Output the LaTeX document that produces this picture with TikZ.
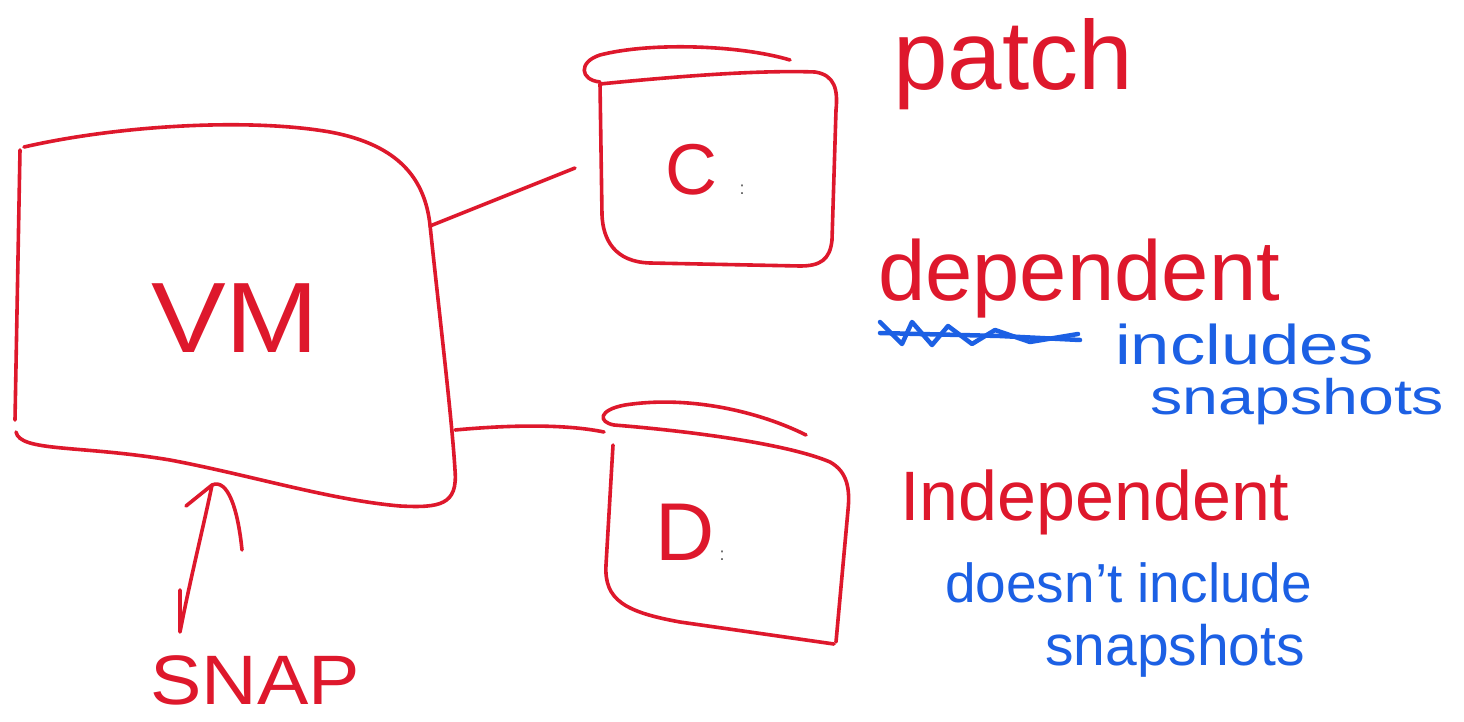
\documentclass[tikz,border=0pt]{standalone}
\usepackage{fontspec}
\usepackage{graphicx}
\setmainfont{Liberation Sans}
\definecolor{inkred}{RGB}{222,24,44}
\definecolor{inkblue}{RGB}{28,96,228}
\definecolor{dotgray}{RGB}{90,90,90}
\tikzset{
  redline/.style={draw=inkred,line width=3.6pt,line cap=round,line join=round},
  blueline/.style={draw=inkblue,line width=4.5pt,line cap=round,line join=round},
  redtxt/.style={text=inkred,inner sep=0pt},
  bluetxt/.style={text=inkblue,inner sep=0pt},
}
\newcommand{\fs}[1]{\fontsize{#1}{#1}\selectfont}
\begin{document}
\begin{tikzpicture}[x=1pt,y=-1pt]
\useasboundingbox (0,0) rectangle (1464,722);
\fill[white] (0,0) rectangle (1464,722);

% ---- VM box ----
\draw[redline] (24,147) .. controls (120,125) and (250,118) .. (330,132)
  .. controls (400,145) and (425,180) .. (430,225)
  .. controls (440,320) and (452,420) .. (455,470)
  .. controls (458,505) and (440,508) .. (400,506)
  .. controls (330,500) and (250,475) .. (170,460)
  .. controls (80,445) and (20,452) .. (16,432);
\draw[redline] (20,150) -- (15,420);
\node[redtxt,font=\fs{100}] (vm) at (235,318) {\scalebox{1.12}[1]{VM}};

% ---- C: box ----
\draw[redline] (790,60) .. controls (740,45) and (650,42) .. (600,55)
  .. controls (578,62) and (580,80) .. (600,82);
\draw[redline] (600,84) .. controls (680,76) and (760,70) .. (815,72)
  .. controls (835,75) and (838,90) .. (836,110)
  -- (832,240) .. controls (830,260) and (820,266) .. (800,266)
  -- (650,263) .. controls (615,262) and (603,240) .. (602,215) -- cycle;
\node[redtxt,font=\fs{72},anchor=base] (cdrive) at (705,195) {C\textcolor{dotgray}{\fs{18}\hspace{22pt}:}};

% ---- D: box ----
\draw[redline] (806,435) .. controls (760,412) and (690,395) .. (625,405)
  .. controls (598,410) and (598,422) .. (614,425);
\draw[redline] (614,425) .. controls (700,432) and (790,445) .. (830,462)
  .. controls (848,472) and (850,490) .. (848,510) -- (836,642);
\draw[redline] (613,445) -- (606,565) .. controls (604,600) and (625,612) .. (680,622)
  -- (834,644);
\node[redtxt,font=\fs{82},anchor=base] (ddrive) at (690,560) {D\textcolor{dotgray}{\fs{18}\;:}};

% ---- connectors ----
\coordinate (vmC) at (430,226);
\coordinate (cL) at (575,168);
\coordinate (vmD) at (455,430);
\coordinate (dL) at (604,432);
\draw[redline] (vmC) -- (cL);
\draw[redline] (vmD) .. controls (520,424) and (570,425) .. (dL);

% ---- snap arrow ----
\node[redtxt,font=\fs{70},anchor=base west] (snap) at (150,704) {\scalebox{1.1}[1]{SNAP}};
\coordinate (snapTop) at (180,632);
\coordinate (tip) at (212,485);
\draw[redline] (180,590) -- (snapTop) .. controls (190,580) and (205,520) .. (tip);
\draw[redline] (186,506) -- (tip) .. controls (228,478) and (238,510) .. (242,550);

% ---- labels ----
\node[redtxt,font=\fs{98},anchor=base west] (patch) at (893,90) {patch};
\node[redtxt,font=\fs{85},anchor=base west] (dep) at (878,300) {dependent};
\node[redtxt,font=\fs{70},anchor=base west] (indep) at (900,520) {Independent};

% scribbled-out word
\draw[blueline] (880,322) -- (902,344) -- (912,322) -- (932,345) -- (948,326)
  -- (972,344) -- (995,330) -- (1030,342) -- (1078,334);
\draw[blueline] (880,333) -- (1000,336) -- (1080,340);

\node[bluetxt,font=\fs{56},anchor=base west] (incl) at (1115,364) {\scalebox{1.26}[1]{includes}};
\node[bluetxt,font=\fs{50},anchor=base west] (snap1) at (1150,414) {\scalebox{1.29}[1]{snapshots}};
\node[bluetxt,font=\fs{55},anchor=base west] (dnincl) at (945,602) {doesn't include};
\node[bluetxt,font=\fs{57},anchor=base west] (snap2) at (1045,665) {snapshots};
\end{tikzpicture}
\end{document}
